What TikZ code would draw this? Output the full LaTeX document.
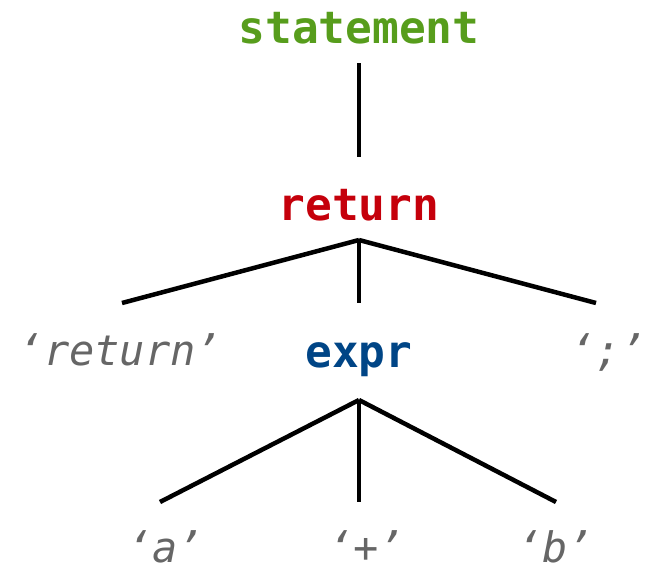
\documentclass[tikz,border=0pt]{standalone}
\usepackage{fontspec}
\setmonofont{DejaVu Sans Mono}
\definecolor{stmtgreen}{RGB}{87,157,28}
\definecolor{retred}{RGB}{197,0,11}
\definecolor{exprblue}{RGB}{0,69,134}
\definecolor{leafgrey}{RGB}{102,102,102}
\begin{document}
\begin{tikzpicture}[x=1pt,y=-1pt,
        rule/.style={font=\fontsize{44.5}{44.5}\selectfont\ttfamily\bfseries,anchor=base,inner sep=0pt},
        leaf/.style={font=\fontsize{42}{42}\selectfont\ttfamily\itshape,text=leafgrey,anchor=base,inner sep=0pt},
        edge/.style={line width=4.5pt}]
        \useasboundingbox (0,0) rectangle (648,568);
        \node [rule,text=stmtgreen] (stmt) at (359,43) {statement};
        \node [rule,text=retred] (ret) at (359,220) {return};
        \node [leaf] (kw) at (120,365) {‘return’};
        \node [rule,text=exprblue] (expr) at (359,367) {expr};
        \node [leaf] (semi) at (608,365) {‘;’};
        \node [leaf] (a) at (165,562) {‘a’};
        \node [leaf] (plus) at (366,562) {‘+’};
        \node [leaf] (b) at (555,562) {‘b’};
        \draw [edge] ([yshift=-20pt]stmt.base) -- ([yshift=63pt]ret.base);
        \draw [edge] ([yshift=-20pt]ret.base) -- ([xshift=2pt,yshift=62pt]kw.base);
        \draw [edge] ([yshift=-20pt]ret.base) -- ([yshift=64pt]expr.base);
        \draw [edge] ([yshift=-20pt]ret.base) -- ([xshift=-12pt,yshift=62pt]semi.base);
        \draw [edge] ([yshift=-33pt]expr.base) -- ([xshift=-5pt,yshift=60pt]a.base);
        \draw [edge] ([yshift=-33pt]expr.base) -- ([xshift=-7pt,yshift=60pt]plus.base);
        \draw [edge] ([yshift=-33pt]expr.base) -- ([xshift=1pt,yshift=60pt]b.base);
    \end{tikzpicture}
\end{document}
